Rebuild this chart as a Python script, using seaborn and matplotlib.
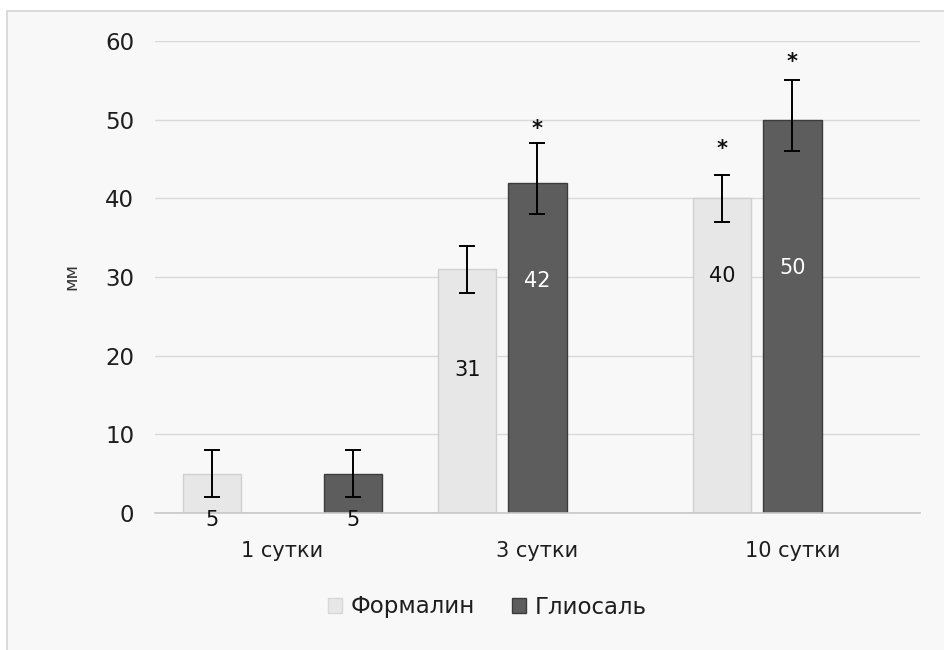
import matplotlib
matplotlib.use("Agg")
import matplotlib.pyplot as plt
from matplotlib.patches import Rectangle, Patch
import seaborn as sns
import pandas as pd

# Data
groups = ["1 сутки", "3 сутки", "10 сутки"]
series = ["Формалин", "Глиосаль"]
formalin = [5, 31, 40]
gliosal = [5, 42, 50]
formalin_err_low = [3, 3, 3]
formalin_err_high = [3, 3, 3]
gliosal_err_low = [3, 4, 4]
gliosal_err_high = [3, 5, 5]
formalin_star = [False, False, True]
gliosal_star = [False, True, True]
y_ticks = [0, 10, 20, 30, 40, 50, 60]

# Layout: dodge slot of each bar within its group, and where value labels sit
formalin_slot = [0, 0, 0]
gliosal_slot = [2, 1, 1]
formalin_label_y = [-0.9, 18.2, 30.1]
gliosal_label_y = [-0.9, 29.5, 31.1]
formalin_label_color = ["#111111", "#111111", "#111111"]
gliosal_label_color = ["#111111", "white", "white"]
formalin_star_off = [0, 0, 3.3]
gliosal_star_off = [0, 1.8, 2.3]

LIGHT = "#e7e7e7"
DARK = "#5d5d5d"
BG = "#f8f8f8"
TXT = "#1e1e1e"

sns.set_theme(style="white")
plt.rcParams["font.family"] = ["DejaVu Sans"]

rows = []
for i, g in enumerate(groups):
    rows.append({"group": g, "slot": formalin_slot[i], "value": formalin[i]})
    rows.append({"group": g, "slot": gliosal_slot[i], "value": gliosal[i]})
df = pd.DataFrame(rows)

fig = plt.figure(figsize=(9.45, 6.5), dpi=100)
fig.patch.set_facecolor("white")
frame = Rectangle((7 / 945, -0.1), 2, 1.1 - 11 / 650, transform=fig.transFigure,
                  facecolor=BG, edgecolor="#d4d4d4", linewidth=1.2, zorder=-10)
fig.add_artist(frame)

ax = fig.add_axes([155 / 945, 1 - 513 / 650, 765 / 945, 472 / 650])
ax.set_facecolor(BG)
ax.patch.set_alpha(0)

sns.barplot(data=df, x="group", y="value", hue="slot", hue_order=[0, 1, 2],
            order=groups, palette={0: LIGHT, 1: DARK, 2: DARK},
            dodge=True, width=0.825, gap=0.17, errorbar=None,
            legend=False, ax=ax, zorder=2)

# Collect bars per group (leftmost = Формалин, other = Глиосаль)
bars = {}
for p in ax.patches:
    if p.get_height() <= 0:
        continue
    xc = p.get_x() + p.get_width() / 2
    bars.setdefault(int(round(xc)), []).append(p)

for gi in range(len(groups)):
    pair = sorted(bars[gi], key=lambda r: r.get_x())
    fb, gb = pair[0], pair[1]
    fb.set_edgecolor("#d0d0d0"); fb.set_linewidth(1.0)
    gb.set_edgecolor("#3c3c3c"); gb.set_linewidth(1.0)
    specs = [
        (fb, formalin[gi], formalin_err_low[gi], formalin_err_high[gi],
         formalin_label_y[gi], formalin_label_color[gi], formalin_star[gi], formalin_star_off[gi]),
        (gb, gliosal[gi], gliosal_err_low[gi], gliosal_err_high[gi],
         gliosal_label_y[gi], gliosal_label_color[gi], gliosal_star[gi], gliosal_star_off[gi]),
    ]
    for bar, val, lo, hi, ly, lc, star, soff in specs:
        xc = bar.get_x() + bar.get_width() / 2
        ax.errorbar(xc, val, yerr=[[lo], [hi]], fmt="none", ecolor="black",
                    elinewidth=1.4, capsize=6, capthick=1.4, zorder=4)
        ax.text(xc, ly, f"{val}", ha="center", va="center", fontsize=15,
                color=lc, zorder=5)
        if star:
            ax.text(xc, val + hi + soff, "*", ha="center", va="center",
                    fontsize=15, color="#111111", fontweight="bold", zorder=5)

ax.set_ylim(0, 60)
ax.set_yticks(y_ticks)
ax.set_xlim(-0.5, 2.5)
ax.yaxis.grid(True, color="#d9d9d9", linewidth=1.0)
ax.set_axisbelow(True)
for s in ["top", "right", "left"]:
    ax.spines[s].set_visible(False)
ax.spines["bottom"].set_color("#c8c8c8")
ax.spines["bottom"].set_linewidth(1.2)
ax.tick_params(axis="y", length=0, pad=15, labelsize=16.5, labelcolor=TXT)
ax.tick_params(axis="x", length=0, pad=20, labelsize=15, labelcolor=TXT)
ax.set_xlabel("")
ax.set_ylabel("мм", fontsize=13, color="#333333")
ax.yaxis.set_label_coords(-0.098, 0.5)

handles = [Patch(facecolor=LIGHT, edgecolor="#d8d8d8"),
           Patch(facecolor=DARK, edgecolor="#3c3c3c")]
fig.legend(handles, series, loc="center", bbox_to_anchor=(487 / 945, 1 - 607 / 650),
           ncol=2, frameon=False, fontsize=16.5, handlelength=0.65, handleheight=0.65,
           handletextpad=0.35, columnspacing=1.6, labelcolor=TXT)

fig.savefig("out.png", dpi=100, facecolor="white")
